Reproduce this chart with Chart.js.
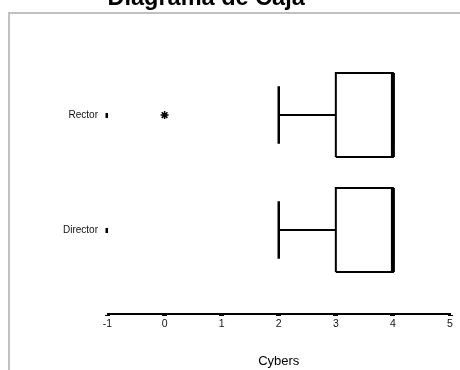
<!DOCTYPE html>
<html>
<head>
<meta charset="utf-8">
<script src="https://cdn.jsdelivr.net/npm/chart.js@4.4.1/dist/chart.umd.min.js"></script>
<style>
  html, body { margin: 0; padding: 0; background: #fff; overflow: hidden; }
  #wrap { position: relative; width: 460px; height: 370px; }
  #frame { position: absolute; left: 8px; top: 12px; width: 470px; height: 380px;
           border-left: 2px solid #c0c0c0; border-top: 2px solid #c0c0c0; box-sizing: border-box; }
  #c { position: absolute; left: 0; top: 0; }
</style>
</head>
<body>
<div id="wrap">
  <div id="frame"></div>
  <canvas id="c" width="460" height="370"></canvas>
</div>
<script>
// ---- data ----
const categories = ['Rector', 'Director'];
const minVals    = [2, 2];
const q1Vals     = [3, 3];
const medianVals = [4, 4];
const q3Vals     = [4, 4];
const maxVals    = [4, 4];
const outliers   = [[0], []];
const xTicks     = [-1, 0, 1, 2, 3, 4, 5];
const chartTitle = 'Diagrama de Caja';
const xTitle     = 'Cybers';

// ---- build datasets ----
const BOX_HALF = 0.365;
const CAP_HALF = 0.25;
const n = categories.length;
const posOf = i => n - i;

const datasets = [];
function seg(points, width) {
  datasets.push({
    type: 'scatter', showLine: true, data: points,
    borderColor: '#000', backgroundColor: '#000', borderWidth: width,
    pointRadius: 0, pointHoverRadius: 0, fill: false, tension: 0,
    borderJoinStyle: 'miter', borderCapStyle: 'butt'
  });
}
categories.forEach((c, i) => {
  const y = posOf(i);
  // lower whisker + cap
  seg([{x: minVals[i], y}, {x: q1Vals[i], y}], 2);
  seg([{x: minVals[i], y: y - CAP_HALF}, {x: minVals[i], y: y + CAP_HALF}], 2.5);
  // upper whisker + cap
  seg([{x: q3Vals[i], y}, {x: maxVals[i], y}], 2);
  seg([{x: maxVals[i], y: y - CAP_HALF}, {x: maxVals[i], y: y + CAP_HALF}], 2.5);
  // box
  seg([
    {x: q1Vals[i], y: y - BOX_HALF}, {x: q3Vals[i], y: y - BOX_HALF},
    {x: q3Vals[i], y: y + BOX_HALF}, {x: q1Vals[i], y: y + BOX_HALF},
    {x: q1Vals[i], y: y - BOX_HALF}
  ], 2);
  // median
  seg([{x: medianVals[i], y: y - BOX_HALF}, {x: medianVals[i], y: y + BOX_HALF}], 4);
  // outliers
  if (outliers[i].length) {
    datasets.push({
      type: 'scatter', data: outliers[i].map(v => ({x: v, y})),
      pointStyle: 'star', pointRadius: 4, borderWidth: 1.5,
      borderColor: '#000', backgroundColor: '#000', showLine: false
    });
  }
});

const FONT = "'Liberation Sans', Arial, sans-serif";

new Chart(document.getElementById('c'), {
  data: { datasets },
  options: {
    responsive: false,
    animation: false,
    devicePixelRatio: 1,
    layout: { padding: { left: 0, right: 10, top: 0, bottom: 0 } },
    plugins: {
      legend: { display: false },
      tooltip: { enabled: false },
      title: {
        display: true, text: chartTitle, align: 'start', fullSize: false,
        color: '#000', font: { family: FONT, size: 23.5, weight: 'bold' },
        padding: { top: -16, bottom: 2.8 }
      }
    },
    scales: {
      x: {
        type: 'linear', min: xTicks[0], max: xTicks[xTicks.length - 1],
        afterBuildTicks: s => { s.ticks = xTicks.map(v => ({value: v})); },
        afterFit: s => { s.height = 56; },
        border: { display: true, color: '#000', width: 2 },
        grid: { drawOnChartArea: false, drawTicks: true, tickLength: 2, tickWidth: 5, tickColor: '#000' },
        ticks: { color: '#111', font: { family: FONT, size: 10.5 }, padding: 2, maxRotation: 0 },
        title: { display: true, text: xTitle, color: '#000', font: { family: FONT, size: 13 }, padding: { top: 0, bottom: 1 } }
      },
      y: {
        type: 'linear', min: 0.27, max: 2.87,
        afterBuildTicks: s => { s.ticks = categories.map((c, i) => ({value: posOf(i)})); },
        afterFit: s => { s.width = 107.5; },
        border: { display: false },
        grid: { drawOnChartArea: false, drawTicks: true, tickLength: 2, tickWidth: 5, tickColor: '#000' },
        ticks: {
          color: '#111', font: { family: FONT, size: 10 }, padding: 7.5,
          callback: v => categories[n - v]
        }
      }
    }
  }
});
</script>
</body>
</html>
